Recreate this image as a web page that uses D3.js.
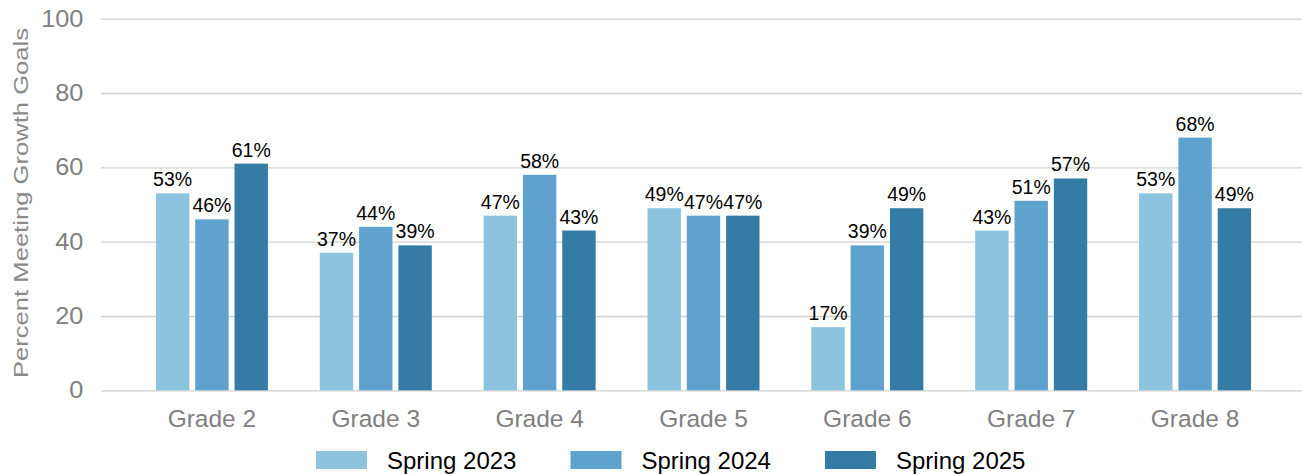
<!DOCTYPE html>
<html>
<head>
  <meta charset="utf-8">
  <script src="https://d3js.org/d3.v7.min.js"></script>
  <style>
    body {
      margin: 0;
      background: #fff;
    }
    text {
      font-family: "Liberation Sans", Arial, sans-serif;
    }
  </style>
</head>
<body>
  <script type="text/javascript">
    "use strict";

    // chart data
    var grades = ["Grade 2", "Grade 3", "Grade 4", "Grade 5", "Grade 6", "Grade 7", "Grade 8"];
    var seriesNames = ["Spring 2023", "Spring 2024", "Spring 2025"];
    var spring2023 = [53, 37, 47, 49, 17, 43, 53];
    var spring2024 = [46, 44, 58, 47, 39, 51, 68];
    var spring2025 = [61, 39, 43, 47, 49, 57, 49];
    var yTicks = [0, 20, 40, 60, 80, 100];
    var colors = ["#8cc4e0", "#5fa2cd", "#347ba6"];

    var seriesValues = [spring2023, spring2024, spring2025];

    var width = 1302,
        height = 474,
        plotLeft = 101,
        plotTop = 18.7,
        plotBottom = 390.3;

    // build one row per grade for d3
    var data = grades.map(function (g, i) {
      return {
        grade: g,
        values: seriesNames.map(function (s, j) {
          return { series: s, value: seriesValues[j][i] };
        })
      };
    });

    var svg = d3.select("body")
      .append("svg")
        .attr("width", width)
        .attr("height", height);

    /*
      scales
    */
    var x = d3.scaleBand()
      .domain(grades)
      .range([130, 1277]);

    var xInner = d3.scaleBand()
      .domain(seriesNames)
      .range([-56, 56])
      .paddingInner(0.15);

    var y = d3.scaleLinear()
      .domain([0, 100])
      .range([plotBottom, plotTop]);

    var color = d3.scaleOrdinal()
      .domain(seriesNames)
      .range(colors);

    // y axis with gridlines across the plot
    var yAxis = svg.append("g")
      .attr("transform", "translate(" + plotLeft + ",0)")
      .call(d3.axisLeft(y)
        .tickValues(yTicks)
        .tickSize(-(width - plotLeft))
        .tickPadding(16));

    yAxis.select(".domain").remove();
    yAxis.selectAll(".tick line")
      .attr("stroke", "#d0d0d0")
      .attr("stroke-width", 1.3);
    yAxis.selectAll(".tick text")
      .attr("fill", "#808080")
      .style("font-size", "23px")
      .attr("transform", "scale(1.1,1)");

    // y axis title
    svg.append("text")
      .attr("transform", "translate(28,203) rotate(-90) scale(1.22,1)")
      .attr("text-anchor", "middle")
      .attr("fill", "#8a8a8a")
      .style("font-size", "21px")
      .text("Percent Meeting Growth Goals");

    /*
      bars and value labels
    */
    var groups = svg.selectAll("g.grade")
      .data(data)
      .enter()
      .append("g")
        .attr("class", "grade")
        .attr("transform", function (d) {
          return "translate(" + (x(d.grade) + x.bandwidth() / 2) + ",0)";
        });

    groups.selectAll("rect")
      .data(function (d) { return d.values; })
      .enter()
      .append("rect")
        .attr("x", function (d) { return xInner(d.series); })
        .attr("y", function (d) { return y(d.value); })
        .attr("width", xInner.bandwidth())
        .attr("height", function (d) { return y(0) - y(d.value); })
        .attr("fill", function (d) { return color(d.series); });

    groups.selectAll("text.value")
      .data(function (d) { return d.values; })
      .enter()
      .append("text")
        .attr("class", "value")
        .attr("x", function (d) { return xInner(d.series) + xInner.bandwidth() / 2; })
        .attr("y", function (d) { return y(d.value) - 7; })
        .attr("text-anchor", "middle")
        .attr("fill", "#000")
        .style("font-size", "19.5px")
        .text(function (d) { return d.value + "%"; });

    // category labels under the bars
    svg.selectAll("text.grade-label")
      .data(grades)
      .enter()
      .append("text")
        .attr("class", "grade-label")
        .attr("x", function (d) { return x(d) + x.bandwidth() / 2; })
        .attr("y", 426.5)
        .attr("text-anchor", "middle")
        .attr("fill", "#808080")
        .style("font-size", "24.5px")
        .text(function (d) { return d; });

    /*
      legend along the bottom
    */
    var legend = svg.selectAll("g.legend")
      .data(seriesNames)
      .enter()
      .append("g")
        .attr("class", "legend")
        .attr("transform", function (d, i) {
          return "translate(" + (316 + i * 254.5) + ",451)";
        });

    legend.append("rect")
      .attr("width", 51)
      .attr("height", 18)
      .attr("fill", function (d) { return color(d); });

    legend.append("text")
      .attr("x", 71)
      .attr("y", 18.3)
      .attr("fill", "#000")
      .style("font-size", "24px")
      .text(function (d) { return d; });
  </script>
</body>
</html>
